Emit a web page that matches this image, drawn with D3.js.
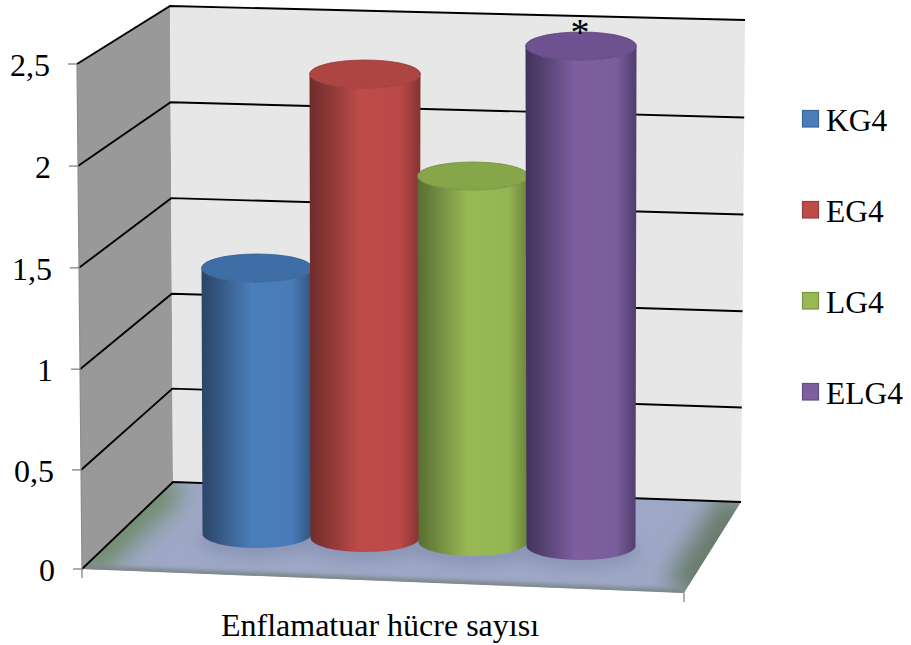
<!DOCTYPE html>
<html>
<head>
<meta charset="utf-8">
<script src="https://cdn.jsdelivr.net/npm/d3@7/dist/d3.min.js"></script>
<style>
html,body{margin:0;padding:0;background:#fff;}
svg{display:block;}
text{font-family:"Liberation Serif","Times New Roman",serif;fill:#000;}
</style>
</head>
<body>
<svg id="chart" width="911" height="645"></svg>
<script>
// Chart content
const seriesNames = ["KG4", "EG4", "LG4", "ELG4"];
const seriesValues = [1.33, 2.32, 1.83, 2.5];
const tickValues = [0, 0.5, 1, 1.5, 2, 2.5];
const tickLabels = ["0", "0,5", "1", "1,5", "2", "2,5"];
const categoryLabel = "Enflamatuar hücre sayısı";
const starredSeries = "ELG4";

// Series palette: face, shaded edge, top cap
const faceColors = ["#4a7ebb", "#be4b48", "#98b954", "#7d5fa0"];
const edgeColors = ["#2a4566", "#6e2c2b", "#586e32", "#41325c"];
const capColors  = ["#3f6ea6", "#ad4542", "#87a64a", "#6d5190"];

const svg = d3.select("#chart");
const defs = svg.append("defs");

// Vertical projection of the value axis along the three box edges
const exponent = 1.012;
const yFront = d3.scalePow().exponent(exponent).domain([0, 2.5]).range([569, 64]);
const yBackL = d3.scalePow().exponent(exponent).domain([0, 2.5]).range([482, 6]);
const yBackR = d3.scalePow().exponent(exponent).domain([0, 2.5]).range([502, 20]);
const xFront = d3.scaleLinear().domain([0, 2.5]).range([82, 77]);
const xBackL = d3.scaleLinear().domain([0, 2.5]).range([173, 170]);
const xBackR = d3.scaleLinear().domain([0, 2.5]).range([741, 745]);

// Floor corners
const floorFrontRight = [684, 593];
const pt = (x, y, v) => [x(v), y(v)];
const floorPts = [pt(xFront, yFront, 0), floorFrontRight, pt(xBackR, yBackR, 0), pt(xBackL, yBackL, 0)];
const line = d3.line();

// Side wall and back wall
svg.append("path")
  .attr("d", line([pt(xFront, yFront, 0), pt(xFront, yFront, 2.5), pt(xBackL, yBackL, 2.5), pt(xBackL, yBackL, 0)]) + "Z")
  .attr("fill", "#999999");
svg.append("path")
  .attr("d", line([pt(xBackL, yBackL, 0), pt(xBackL, yBackL, 2.5), pt(xBackR, yBackR, 2.5), pt(xBackR, yBackR, 0)]) + "Z")
  .attr("fill", "#e7e7e7");

// Floor: lavender plate with soft grey-green rims
defs.append("clipPath").attr("id", "floorClip")
  .append("path").attr("d", line(floorPts) + "Z");
const addBlur = (id, sd) => defs.append("filter").attr("id", id)
  .attr("filterUnits", "userSpaceOnUse").attr("x", 0).attr("y", 400).attr("width", 911).attr("height", 245)
  .append("feGaussianBlur").attr("stdDeviation", sd);
addBlur("rimBlur", 12);
addBlur("edgeBlur", 2);
addBlur("shadowBlur", 7);
const floor = svg.append("g").attr("clip-path", "url(#floorClip)");
floor.append("path").attr("d", line(floorPts) + "Z").attr("fill", "#9ea8c6");
floor.append("path").attr("d", line([floorPts[3], floorPts[0]]))
  .attr("stroke", "#6e8a68").attr("stroke-width", 34).attr("fill", "none").attr("filter", "url(#rimBlur)");
floor.append("path").attr("d", line([floorPts[1], floorPts[2]]))
  .attr("stroke", "#687a68").attr("stroke-width", 42).attr("fill", "none").attr("filter", "url(#rimBlur)");
floor.append("path").attr("d", line([floorPts[0], floorPts[1]]))
  .attr("stroke", "#7c8688").attr("stroke-width", 7).attr("fill", "none").attr("filter", "url(#edgeBlur)");

// Gridlines across both walls
tickValues.forEach(v => {
  svg.append("path")
    .attr("d", line([pt(xFront, yFront, v), pt(xBackL, yBackL, v), pt(xBackR, yBackR, v)]))
    .attr("fill", "none")
    .attr("stroke", "#000")
    .attr("stroke-width", 1.9)
    .attr("stroke-linejoin", "miter");
});

// Value axis ticks and labels
const axisGroup = svg.append("g");
axisGroup.append("path")
  .attr("d", line([pt(xFront, yFront, 0), pt(xFront, yFront, 2.5)]))
  .attr("stroke", "#8c8c8c").attr("stroke-width", 1.2).attr("fill", "none");
tickValues.forEach((v, i) => {
  axisGroup.append("line")
    .attr("x1", xFront(v) - 9).attr("x2", xFront(v))
    .attr("y1", yFront(v)).attr("y2", yFront(v))
    .attr("stroke", "#8c8c8c").attr("stroke-width", 1.4);
  axisGroup.append("text")
    .attr("x", xFront(v) - 27)
    .attr("y", yFront(v) + 12)
    .attr("text-anchor", "end")
    .attr("font-size", 32)
    .text(tickLabels[i]);
});

// Category axis: bottom end ticks and title
[pt(xFront, yFront, 0), floorFrontRight].forEach(p => {
  axisGroup.append("line")
    .attr("x1", p[0]).attr("x2", p[0])
    .attr("y1", p[1]).attr("y2", p[1] + 9)
    .attr("stroke", "#8c8c8c").attr("stroke-width", 1.4);
});
svg.append("text")
  .attr("x", 380).attr("y", 636)
  .attr("text-anchor", "middle")
  .attr("font-size", 32)
  .text(categoryLabel);

// Cylinders, drawn left to right so each overlaps the previous one
const xCenter = d3.scalePoint().domain(seriesNames).range([257, 581]);
const yBase = d3.scaleLinear().domain([257, 581]).range([534, 546]);
const heightScale = d3.scaleLinear().domain([0, 2.5]).range([0, 500]);
const rx = 55.5, ryTop = 14, ryBase = 14;

seriesNames.forEach((name, i) => {
  const grad = defs.append("linearGradient").attr("id", "side" + i)
    .attr("x1", "0%").attr("x2", "100%").attr("y1", "0%").attr("y2", "0%");
  const mix = d3.interpolateRgb(faceColors[i], edgeColors[i]);
  [[0, 1], [0.14, 0.72], [0.45, 0], [0.82, 0.05], [1, 0.75]]
    .forEach(s => grad.append("stop").attr("offset", s[0]).attr("stop-color", mix(s[1])));

  const cx = xCenter(name);
  const by = yBase(cx);
  const ty = by - heightScale(seriesValues[i]);

  // Contact shadow on the floor, kept inside the plate
  floor.append("ellipse")
    .attr("cx", cx).attr("cy", by + 6).attr("rx", rx + 4).attr("ry", ryBase + 4)
    .attr("fill", "#7f88ac").attr("opacity", 0.55).attr("filter", "url(#shadowBlur)");

  svg.append("path")
    .attr("d", `M${cx - rx},${ty}A${rx},${ryTop} 0 0 0 ${cx + rx},${ty}L${cx + rx - 1},${by}A${rx - 1},${ryBase} 0 0 1 ${cx - rx + 1},${by}Z`)
    .attr("fill", `url(#side${i})`);
  svg.append("ellipse")
    .attr("cx", cx).attr("cy", ty).attr("rx", rx).attr("ry", ryTop)
    .attr("fill", capColors[i])
    .attr("stroke", d3.color(capColors[i]).darker(0.4))
    .attr("stroke-width", 0.8);

  if (name === starredSeries) {
    svg.append("text")
      .attr("x", cx - 1).attr("y", ty - ryTop + 13)
      .attr("text-anchor", "middle")
      .attr("font-size", 38)
      .attr("font-weight", 300)
      .text("*");
  }
});

// Legend
const legendY = d3.scalePoint().domain(seriesNames).range([119, 392]);
seriesNames.forEach((name, i) => {
  const y = legendY(name);
  svg.append("rect")
    .attr("x", 802.5).attr("y", y - 8.5).attr("width", 16).attr("height", 16.5)
    .attr("fill", faceColors[i])
    .attr("stroke", d3.color(faceColors[i]).darker(0.6))
    .attr("stroke-width", 1.2);
  svg.append("text")
    .attr("x", 826).attr("y", y + 11.5)
    .attr("font-size", 31.5)
    .text(name);
});
</script>
</body>
</html>
